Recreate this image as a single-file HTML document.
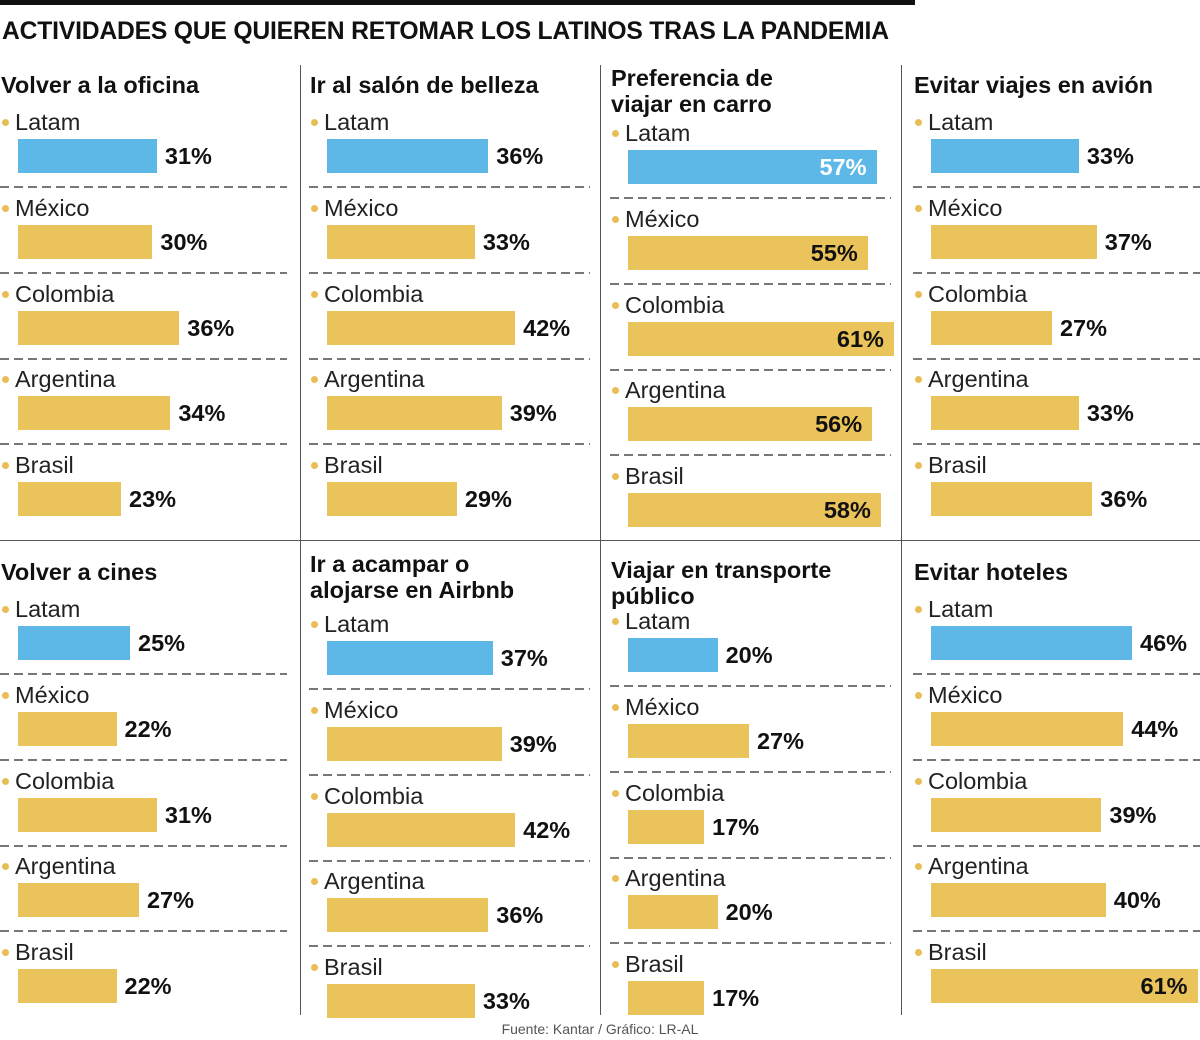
<!DOCTYPE html>
<html><head><meta charset="utf-8">
<style>
body{margin:0;width:1200px;height:1040px;background:#fff;position:relative;overflow:hidden;font-family:"Liberation Sans",sans-serif;color:#111}
.a{position:absolute;white-space:nowrap}
.t{font-weight:bold;font-size:23.5px;line-height:26px}
.lab{font-size:23.5px;color:#222;line-height:26px}
.dot{position:absolute;width:7px;height:7px;border-radius:50%;background:#e9bd55}
.val{font-weight:bold;font-size:23.5px;line-height:34px}
.dash{position:absolute;height:1.5px;background:repeating-linear-gradient(90deg,#777 0 9px,transparent 9px 14px)}
</style></head>
<body>
<div class="a" style="left:0;top:0;width:915px;height:5px;background:#111"></div>
<div class="a" style="left:2px;top:18px;font-weight:bold;font-size:24.7px;letter-spacing:-0.2px">ACTIVIDADES QUE QUIEREN RETOMAR LOS LATINOS TRAS LA PANDEMIA</div>
<div class="a" style="left:0;top:540px;width:1200px;height:1px;background:#555"></div>
<div class="a" style="left:300px;top:65px;width:1px;height:950px;background:#555"></div>
<div class="a" style="left:600px;top:65px;width:1px;height:950px;background:#555"></div>
<div class="a" style="left:901px;top:65px;width:1px;height:950px;background:#555"></div>
<div class="a" style="left:0;width:1200px;text-align:center;top:1021px;font-size:14px;color:#555">Fuente: Kantar / Gráfico: LR-AL</div>
<script>
const countries=["Latam","México","Colombia","Argentina","Brasil"];
const titles=[["Volver a la oficina"],["Ir al salón de belleza"],["Preferencia de","viajar en carro"],["Evitar viajes en avión"],["Volver a cines"],["Ir a acampar o","alojarse en Airbnb"],["Viajar en transporte","público"],["Evitar hoteles"]];
const v0=[31,30,36,34,23];
const v1=[36,33,42,39,29];
const v2=[57,55,61,56,58];
const v3=[33,37,27,33,36];
const v4=[25,22,31,27,22];
const v5=[37,39,42,36,33];
const v6=[20,27,17,20,17];
const v7=[46,44,39,40,61];
const values=[v0,v1,v2,v3,v4,v5,v6,v7];
const px=[0,309,610,913,0,309,610,913];
const titleY=[72,72,65,72,559,551,557,559];
const firstLab=[109,109,120,109,596,611,608,596];
const scales=[4.48,4.48,4.36,4.48,4.48,4.48,4.48,4.37];
const dashW=[287,281,281,287,287,281,281,287];
function add(cls,style,text){const d=document.createElement('div');d.className='a '+cls;d.style.cssText=style;if(text!=null)d.textContent=text;document.body.appendChild(d);return d;}
values.forEach((vals,p)=>{
  const x0=px[p];
  titles[p].forEach((ln,i)=>{
    const t=add('t',`left:${x0+1}px;top:${titleY[p]+i*26}px`,ln);
    
    
  });
  vals.forEach((v,r)=>{
    const ly=Math.round(firstLab[p]+r*85.75);
    const dot=add('dot',`left:${x0+2}px;top:${ly+10}px`);
    
    
    const l=add('lab',`left:${x0+15}px;top:${ly}px`,countries[r]);
    
    
    const bx=x0+18, by=ly+30, w=v*scales[p];
    const b=add('',`left:${bx}px;top:${by}px;width:${w}px;height:34px;background:${r==0?'#5db8e8':'#ebc35b'}`);
    
    
    const inside=bx+w+60>x0+dashW[p]+5;
    let vl;
    if(inside){vl=add('val',`left:${bx}px;width:${w-10}px;text-align:right;top:${by}px;color:${r==0?'#fff':'#111'}`,v+'%');}
    else{vl=add('val',`left:${bx+w+8}px;top:${by}px`,v+'%');}
    
    
    if(r<4){
      const d=add('dash',`left:${x0}px;top:${ly+77}px;width:${dashW[p]}px`);
      
      
    }
  });
});
</script>
</body></html>
